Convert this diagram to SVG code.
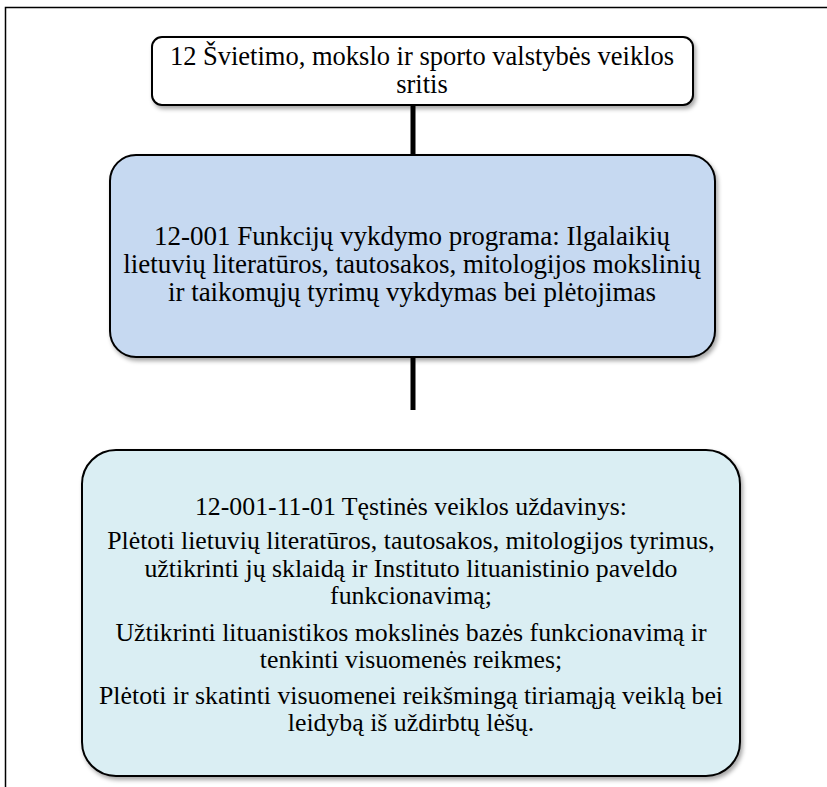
<svg xmlns="http://www.w3.org/2000/svg" width="827" height="787" viewBox="0 0 827 787">
  <defs>
    <filter id="shadow" x="-10%" y="-10%" width="120%" height="130%">
      <feDropShadow dx="2" dy="3" stdDeviation="2" flood-color="#000" flood-opacity="0.35"/>
    </filter>
    <style>
      .box { stroke: #000; stroke-width: 2; filter: url(#shadow); }
      text { font-family: 'Liberation Serif', 'DejaVu Serif', serif; fill: #000; text-anchor: middle; }
      .t1 { font-size: 26.5px; }
      .t2 { font-size: 27px; }
      .t3 { font-size: 25.8px; }
      .conn { stroke: #000; stroke-width: 5; fill: none; }
    </style>
  </defs>
  <rect x="0" y="0" width="827" height="787" fill="#fff"/>
  <g id="frame">
    <polyline points="5.5,787 5.5,7.5 827,7.5" fill="none" stroke="#000" stroke-width="1.5"/>
  </g>
  <g id="connectors">
    <line class="conn" x1="413" y1="105" x2="413" y2="156"/>
    <line class="conn" x1="413" y1="357" x2="413" y2="410"/>
  </g>
  <g id="node-area">
    <rect class="box" x="152" y="37" width="541" height="68" rx="10" fill="#fff"/>
    <text class="t1" x="422" y="65">12 Švietimo, mokslo ir sporto valstybės veiklos</text>
    <text class="t1" x="422" y="93">sritis</text>
  </g>
  <g id="node-program">
    <rect class="box" x="110" y="155" width="605" height="202" rx="26" fill="#C6D9F1"/>
    <text class="t2" x="412" y="245">12-001 Funkcijų vykdymo programa: Ilgalaikių</text>
    <text class="t2" x="412" y="273">lietuvių literatūros, tautosakos, mitologijos mokslinių</text>
    <text class="t2" x="412" y="301">ir taikomųjų tyrimų vykdymas bei plėtojimas</text>
  </g>
  <g id="node-task">
    <rect class="box" x="82" y="450" width="658" height="326" rx="34" fill="#DAEEF3"/>
    <text class="t3" x="411" y="515">12-001-11-01 Tęstinės veiklos uždavinys:</text>
    <text class="t3" x="411" y="549">Plėtoti lietuvių literatūros, tautosakos, mitologijos tyrimus,</text>
    <text class="t3" x="411" y="577">užtikrinti jų sklaidą ir Instituto lituanistinio paveldo</text>
    <text class="t3" x="411" y="604">funkcionavimą;</text>
    <text class="t3" x="411" y="641">Užtikrinti lituanistikos mokslinės bazės funkcionavimą ir</text>
    <text class="t3" x="411" y="668">tenkinti visuomenės reikmes;</text>
    <text class="t3" x="411" y="704">Plėtoti ir skatinti visuomenei reikšmingą tiriamąją veiklą bei</text>
    <text class="t3" x="411" y="731">leidybą iš uždirbtų lėšų.</text>
  </g>
</svg>
